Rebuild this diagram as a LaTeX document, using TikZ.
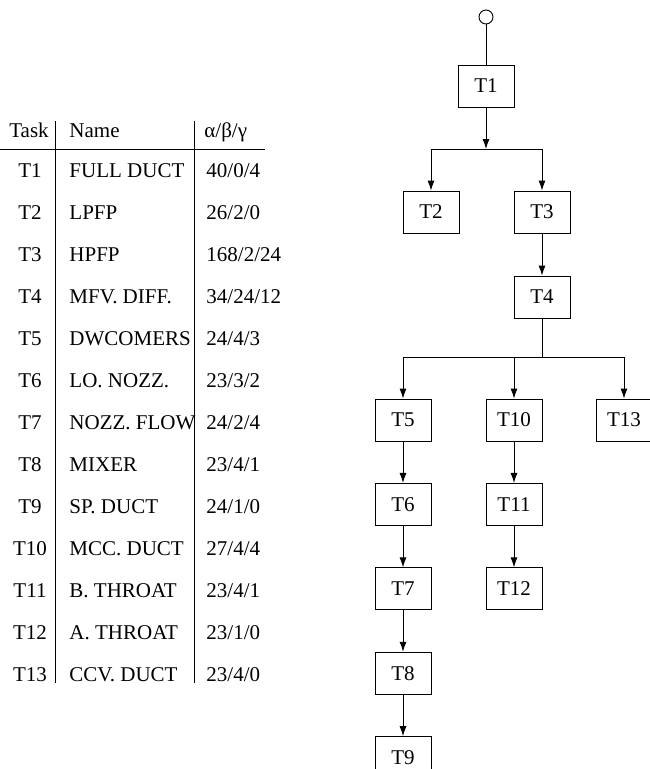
\documentclass[tikz,border=0pt]{standalone}
\usepackage{fontspec}
\setmainfont{Liberation Serif}
\usetikzlibrary{positioning, arrows.meta}

\tikzset{
  task/.style={draw, minimum width=56pt, minimum height=42pt, inner sep=0pt},
  cell/.style={inner sep=0pt, anchor=base west},
  >={Latex[length=10pt, width=7pt]},
}

\begin{document}
\begin{tikzpicture}[x=1pt, y=-1pt, line width=0.9pt, font=\fontsize{21}{25}\selectfont]
  \useasboundingbox (0,0) rectangle (650,769);

  % table of tasks
  \node[cell, anchor=base] (hd1) at (29,137) {Task};
  \node[cell] (hd2) at (69,137) {Name};
  \node[cell] (hd3) at (204,137) {α/β/γ};
  \foreach \n/\a/\b/\c [count=\i] in {
      FULL DUCT/40/0/4, LPFP/26/2/0, HPFP/168/2/24, MFV. DIFF./34/24/12,
      DWCOMERS/24/4/3, LO. NOZZ./23/3/2, NOZZ. FLOW/24/2/4, MIXER/23/4/1,
      SP. DUCT/24/1/0, MCC. DUCT/27/4/4, B. THROAT/23/4/1,
      A. THROAT/23/1/0, CCV. DUCT/23/4/0} {
    \node[cell, anchor=base] (id\i) at (30,135+42*\i) {T\i};
    \node[cell] (nm\i) at (69,135+42*\i) {\n};
    \node[cell] (ab\i) at (206,135+42*\i) {\a/\b/\c};
  }
  \coordinate (r0) at (0,149);
  \coordinate (r1) at (265,149);
  \coordinate (v1a) at (55,121);
  \coordinate (v1b) at (55,683);
  \coordinate (v2a) at (194,121);
  \coordinate (v2b) at (194,683);
  \draw (r0) -- (r1);
  \draw (v1a) -- (v1b);
  \draw (v2a) -- (v2b);

  % task graph
  \node[circle, draw, minimum size=14pt, inner sep=0pt] (start) at (486,17) {};
  \node[task] (t1) at (486,86) {T1};
  \node[task] (t2) at (431,212) {T2};
  \node[task] (t3) at (542,212) {T3};
  \node[task] (t4) at (542,297) {T4};
  \node[task] (t5) at (403,420) {T5};
  \node[task] (t10) at (514,420) {T10};
  \node[task] (t13) at (624,420) {T13};
  \node[task, below=41.5pt of t5] (t6) {T6};
  \node[task, below=41.5pt of t6] (t7) {T7};
  \node[task, below=41.5pt of t7] (t8) {T8};
  \node[task, below=41.5pt of t8] (t9) {T9};
  \node[task, below=41.5pt of t10] (t11) {T11};
  \node[task, below=41.5pt of t11] (t12) {T12};
  \coordinate (j1) at (486,149);
  \coordinate (j2) at (542,357);

  \draw (start) -- (t1);
  \draw[->] (t1) -- (j1);
  \draw[->] (j1) -| (t2);
  \draw[->] (j1) -| (t3);
  \draw[->] (t3) -- (t4);
  \draw (t4) -- (j2);
  \draw[->] (j2) -| (t5);
  \draw[->] (j2) -| (t10);
  \draw[->] (j2) -| (t13);
  \draw[->] (t5) -- (t6);
  \draw[->] (t6) -- (t7);
  \draw[->] (t7) -- (t8);
  \draw[->] (t8) -- (t9);
  \draw[->] (t10) -- (t11);
  \draw[->] (t11) -- (t12);
\end{tikzpicture}
\end{document}
